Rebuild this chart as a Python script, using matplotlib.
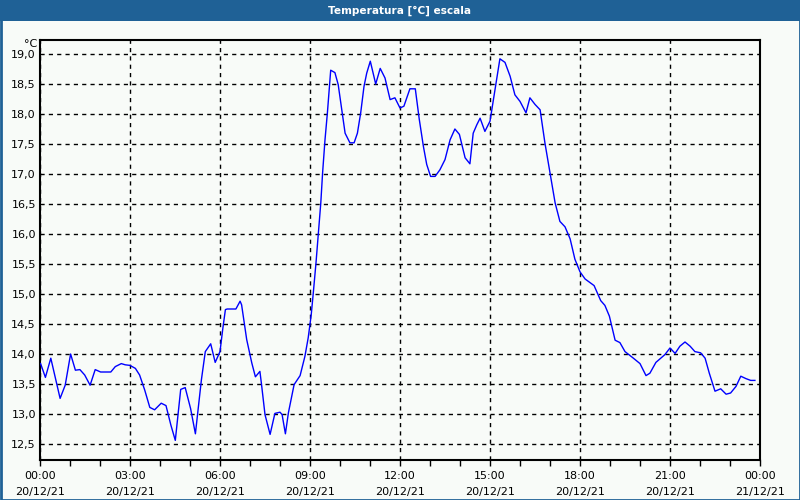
import matplotlib
matplotlib.use("Agg")
import matplotlib.pyplot as plt
from matplotlib.patches import Rectangle
from matplotlib.ticker import MultipleLocator, FixedLocator

# ---- data (hours since 20/12/21 00:00, temperature °C) ----
hours = [0.02, 0.18, 0.36, 0.67, 0.84, 1.02, 1.18, 1.33, 1.49, 1.67, 1.84, 2.02, 2.36, 2.51,
         2.71, 2.84, 3.0, 3.18, 3.32, 3.49, 3.66, 3.82, 4.04, 4.2, 4.36, 4.51, 4.69, 4.84,
         5.02, 5.18, 5.38, 5.51, 5.69, 5.84, 6.0, 6.09, 6.18, 6.24, 6.53, 6.67, 6.72, 6.89,
         7.06, 7.18, 7.33, 7.38, 7.5, 7.67, 7.83, 8.0, 8.07, 8.18, 8.28, 8.47, 8.67, 8.83,
         8.94, 9.04, 9.11, 9.2, 9.28, 9.36, 9.42, 9.5, 9.58, 9.69, 9.83, 9.94, 10.06, 10.17,
         10.33, 10.47, 10.58, 10.69, 10.8, 10.89, 11.01, 11.19, 11.34, 11.5, 11.67, 11.83,
         12.0, 12.13, 12.33, 12.51, 12.64, 12.78, 12.89, 13.02, 13.17, 13.33, 13.5, 13.67,
         13.83, 13.98, 14.17, 14.33, 14.44, 14.56, 14.67, 14.83, 15.0, 15.17, 15.33, 15.5,
         15.67, 15.83, 16.0, 16.2, 16.33, 16.5, 16.67, 16.83, 17.0, 17.17, 17.33, 17.5,
         17.67, 17.83, 18.0, 18.17, 18.47, 18.69, 18.83, 18.98, 19.17, 19.33, 19.5, 19.78,
         20.0, 20.2, 20.33, 20.53, 20.69, 20.83, 21.0, 21.17, 21.33, 21.5, 21.67, 21.83,
         22.02, 22.17, 22.31, 22.5, 22.69, 22.87, 23.02, 23.2, 23.36, 23.53, 23.69, 23.83]
temps = [13.84, 13.61, 13.93, 13.26, 13.48, 14.0, 13.73, 13.74, 13.65, 13.48, 13.74, 13.70, 13.70, 13.79,
         13.84, 13.82, 13.81, 13.76, 13.65, 13.40, 13.11, 13.07, 13.18, 13.14, 12.82, 12.56, 13.41, 13.44,
         13.09, 12.67, 13.57, 14.04, 14.17, 13.86, 14.04, 14.41, 14.74, 14.75, 14.75, 14.88, 14.82, 14.24,
         13.85, 13.62, 13.71, 13.51, 12.99, 12.66, 13.01, 13.03, 12.99, 12.67, 13.02, 13.49, 13.64, 13.96,
         14.27, 14.65, 15.02, 15.52, 16.02, 16.52, 17.02, 17.57, 18.02, 18.73, 18.69, 18.49, 18.07, 17.68,
         17.52, 17.52, 17.68, 18.02, 18.46, 18.68, 18.88, 18.50, 18.76, 18.60, 18.24, 18.27,
         18.10, 18.13, 18.42, 18.42, 17.92, 17.46, 17.16, 16.96, 16.96, 17.07, 17.24, 17.57,
         17.75, 17.66, 17.27, 17.17, 17.68, 17.82, 17.93, 17.71, 17.88, 18.41, 18.92, 18.86,
         18.63, 18.32, 18.21, 18.02, 18.27, 18.16, 18.07, 17.52, 17.02, 16.52, 16.21, 16.12,
         15.92, 15.58, 15.37, 15.25, 15.14, 14.89, 14.81, 14.63, 14.23, 14.19, 14.04, 13.93,
         13.84, 13.64, 13.68, 13.86, 13.93, 13.99, 14.10, 14.01, 14.13, 14.20, 14.13, 14.04,
         14.02, 13.93, 13.68, 13.38, 13.42, 13.33, 13.35, 13.46, 13.63, 13.59, 13.56, 13.56]

xtick_hours = [0, 3, 6, 9, 12, 15, 18, 21, 24]
xtick_labels = ["00:00\n20/12/21", "03:00\n20/12/21", "06:00\n20/12/21", "09:00\n20/12/21",
                "12:00\n20/12/21", "15:00\n20/12/21", "18:00\n20/12/21", "21:00\n20/12/21",
                "00:00\n21/12/21"]
ytick_values = [12.5, 13.0, 13.5, 14.0, 14.5, 15.0, 15.5, 16.0, 16.5, 17.0, 17.5, 18.0, 18.5, 19.0]
title = "Temperatura [°C] escala"
unit = "°C"

plt.rcParams['font.family'] = ['DejaVu Sans']
BG = '#F8FBF8'
BAR = '#1F6196'
FS = 8

fig = plt.figure(figsize=(8, 5), dpi=100, facecolor=BG)

# title bar
fig.patches.append(Rectangle((0, 1 - 21/500), 1, 21/500, transform=fig.transFigure,
                             facecolor=BAR, edgecolor='none', zorder=0))
fig.text(0.5, 1 - 10.5/500, title, ha='center', va='center', color='white',
         fontsize=7.6, fontweight='bold')
# outer border
fig.patches.append(Rectangle((0.5/800, 0.5/500), 1 - 1/800, 1 - 1/500, transform=fig.transFigure,
                             facecolor='none', edgecolor=BAR, linewidth=2, zorder=5))

ax = fig.add_axes([40/800, 40/500, 720/800, 420/500])
ax.set_facecolor(BG)
ax.plot(hours, temps, color='#0000FF', linewidth=1.0, zorder=3)

ax.set_xlim(0, 24)
ax.set_ylim(12.5 - 16/60, 19.0 + 14/60)

ax.xaxis.set_major_locator(FixedLocator(xtick_hours))
ax.set_xticklabels(xtick_labels)
ax.xaxis.set_minor_locator(MultipleLocator(1))
ax.set_yticks(ytick_values)
ax.set_yticklabels([f"{v:.1f}".replace('.', ',') for v in ytick_values])

ax.tick_params(axis='x', which='both', direction='out', length=4, width=1, color='black',
               labelsize=FS, pad=4)
ax.tick_params(axis='y', which='both', length=0, labelsize=FS, pad=3)
for lab in ax.get_xticklabels():
    lab.set_linespacing(1.75)

ax.grid(True, which='major', color='black', linestyle=(0, (3, 3)), linewidth=1)
for s in ax.spines.values():
    s.set_linewidth(1.5)
    s.set_color('black')

fig.text(37/800, 1 - 44/500, unit, ha='right', va='center', fontsize=FS)

fig.savefig("out.png", dpi=100, facecolor=BG)
